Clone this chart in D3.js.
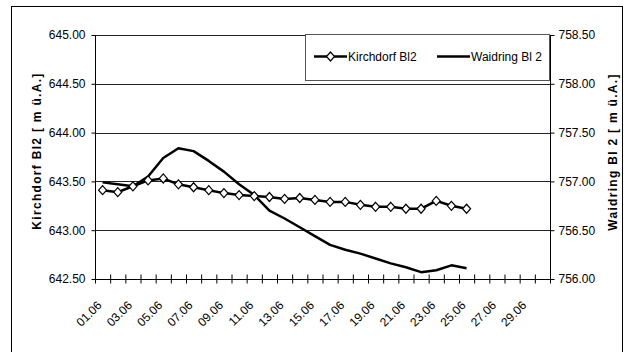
<!DOCTYPE html>
<html>
<head>
<meta charset="utf-8">
<script src="https://d3js.org/d3.v7.min.js"></script>
<style>
    body { margin: 0; background: #fff; }
    svg { font-family: "Liberation Sans", Arial, sans-serif; }
    .tick text { font-size: 12px; fill: #000; }
    .axis-title { font-size: 12px; font-weight: bold; letter-spacing: 1.3px; }
</style>
</head>
<body>
<div id="chart"></div>
<script>
    // days of June shown on the x axis
    const days = ["01.06", "02.06", "03.06", "04.06", "05.06", "06.06", "07.06", "08.06", "09.06", "10.06",
        "11.06", "12.06", "13.06", "14.06", "15.06", "16.06", "17.06", "18.06", "19.06", "20.06",
        "21.06", "22.06", "23.06", "24.06", "25.06", "26.06", "27.06", "28.06", "29.06", "30.06"];

    // Kirchdorf Bl2 (left axis) - 01.06 .. 25.06
    const kirchdorf = [643.41, 643.39, 643.45, 643.51, 643.53, 643.47, 643.44, 643.41, 643.38, 643.36,
        643.35, 643.34, 643.32, 643.33, 643.31, 643.29, 643.29, 643.26, 643.24, 643.24,
        643.22, 643.22, 643.30, 643.25, 643.22];

    // Waidring Bl 2 (right axis) - 01.06 .. 25.06
    const waidring = [756.99, 756.97, 756.95, 757.05, 757.24, 757.34, 757.31, 757.21, 757.10, 756.97,
        756.86, 756.70, 756.62, 756.53, 756.44, 756.35, 756.30, 756.26, 756.21, 756.16,
        756.12, 756.07, 756.09, 756.14, 756.11];

    const leftTicks = [642.5, 643.0, 643.5, 644.0, 644.5, 645.0];
    const rightTicks = [756.0, 756.5, 757.0, 757.5, 758.0, 758.5];

    const W = 628, H = 352;
    const plot = { left: 95, right: 550, top: 35, bottom: 279 };

    const svg = d3.select("#chart").append("svg")
        .attr("width", W)
        .attr("height", H);

    // outer frame
    svg.append("rect")
        .attr("x", 11.5).attr("y", 6.5)
        .attr("width", 611).attr("height", 360)
        .attr("fill", "none").attr("stroke", "#000");

    const x = d3.scaleBand().domain(days).range([plot.left, plot.right]);
    const xIdx = d3.scaleLinear().domain([0, days.length]).range([plot.left, plot.right]);
    const yL = d3.scaleLinear().domain([642.5, 645]).range([plot.bottom, plot.top]);
    const yR = d3.scaleLinear().domain([756, 758.5]).range([plot.bottom, plot.top]);

    // gridlines
    svg.append("g")
        .selectAll("line")
        .data(leftTicks.slice(1))
        .enter().append("line")
        .attr("x1", plot.left).attr("x2", plot.right)
        .attr("y1", d => Math.round(yL(d)) + 0.5)
        .attr("y2", d => Math.round(yL(d)) + 0.5)
        .attr("stroke", "#222");

    // left axis
    const gl = svg.append("g")
        .attr("transform", "translate(" + (plot.left + 0.5) + ",0)")
        .call(d3.axisLeft(yL).tickValues(leftTicks).tickFormat(d3.format(".2f")).tickSize(4).tickPadding(6));
    gl.selectAll("line, path").attr("stroke", "#000");
    gl.select(".domain").attr("d", "M0," + plot.top + "V" + plot.bottom);

    // right axis
    const gr = svg.append("g")
        .attr("transform", "translate(" + (plot.right + 0.5) + ",0)")
        .call(d3.axisRight(yR).tickValues(rightTicks).tickFormat(d3.format(".2f")).tickSize(4).tickPadding(4));
    gr.selectAll("line, path").attr("stroke", "#000");
    gr.select(".domain").attr("d", "M0," + plot.top + "V" + plot.bottom);

    // x axis: cross tick marks at band edges
    const gx = svg.append("g")
        .attr("transform", "translate(0," + (plot.bottom - 4.5) + ")")
        .call(d3.axisBottom(xIdx).ticks(days.length).tickSize(9).tickFormat(""));
    gx.select(".domain").remove();
    gx.selectAll("line").attr("stroke", "#000");
    svg.append("line")
        .attr("x1", plot.left).attr("x2", plot.right)
        .attr("y1", plot.bottom + 0.5).attr("y2", plot.bottom + 0.5)
        .attr("stroke", "#000");

    // x labels, every second day, rotated
    svg.append("g")
        .selectAll("text")
        .data(days.filter((d, i) => i % 2 === 0))
        .enter().append("text")
        .attr("transform", d => "translate(" + (x(d) + x.bandwidth() / 2 - 3) + "," + (plot.bottom + 24) + ") rotate(-45)")
        .attr("text-anchor", "end")
        .attr("font-size", 12)
        .attr("dy", "0.35em")
        .text(d => d);

    // axis titles
    svg.append("text")
        .attr("class", "axis-title")
        .attr("transform", "translate(41," + ((plot.top + plot.bottom) / 2 - 6) + ") rotate(-90)")
        .attr("text-anchor", "middle")
        .text("Kirchdorf Bl2 [ m ü.A.]");

    svg.append("text")
        .attr("class", "axis-title")
        .attr("transform", "translate(617," + ((plot.top + plot.bottom) / 2 - 5) + ") rotate(-90)")
        .attr("text-anchor", "middle")
        .text("Waidring Bl 2 [ m ü.A.]");

    const cx = (d, i) => x(days[i]) + x.bandwidth() / 2;

    // Waidring line
    svg.append("path")
        .datum(waidring)
        .attr("fill", "none")
        .attr("stroke", "#000")
        .attr("stroke-width", 2.5)
        .attr("stroke-linejoin", "round")
        .attr("d", d3.line().x(cx).y(d => yR(d)));

    // Kirchdorf line with diamonds
    svg.append("path")
        .datum(kirchdorf)
        .attr("fill", "none")
        .attr("stroke", "#000")
        .attr("stroke-width", 2.5)
        .attr("d", d3.line().x(cx).y(d => yL(d)));

    // diamond marker, a bit taller than wide like the original
    const diamond = "M0,-4.5L4,0L0,4.5L-4,0Z";
    svg.append("g")
        .selectAll("path")
        .data(kirchdorf)
        .enter().append("path")
        .attr("transform", (d, i) => "translate(" + cx(d, i) + "," + yL(d) + ")")
        .attr("d", diamond)
        .attr("fill", "#fff")
        .attr("stroke", "#000")
        .attr("stroke-width", 1.2);

    // legend
    const lg = svg.append("g");
    lg.append("rect")
        .attr("x", 305.5).attr("y", 34.5)
        .attr("width", 244).attr("height", 46)
        .attr("fill", "#fff").attr("stroke", "#555");

    lg.append("line")
        .attr("x1", 314).attr("x2", 347).attr("y1", 56.5).attr("y2", 56.5)
        .attr("stroke", "#000").attr("stroke-width", 2.5);
    lg.append("path")
        .attr("transform", "translate(330.5,56.5)")
        .attr("d", diamond)
        .attr("fill", "#fff").attr("stroke", "#000").attr("stroke-width", 1.2);
    lg.append("text")
        .attr("x", 348).attr("y", 56.5).attr("dy", "0.35em")
        .attr("font-size", 12)
        .text("Kirchdorf Bl2");

    lg.append("line")
        .attr("x1", 437).attr("x2", 470).attr("y1", 56.5).attr("y2", 56.5)
        .attr("stroke", "#000").attr("stroke-width", 2.5);
    lg.append("text")
        .attr("x", 471).attr("y", 56.5).attr("dy", "0.35em")
        .attr("font-size", 12)
        .text("Waidring Bl 2");
</script>
</body>
</html>
